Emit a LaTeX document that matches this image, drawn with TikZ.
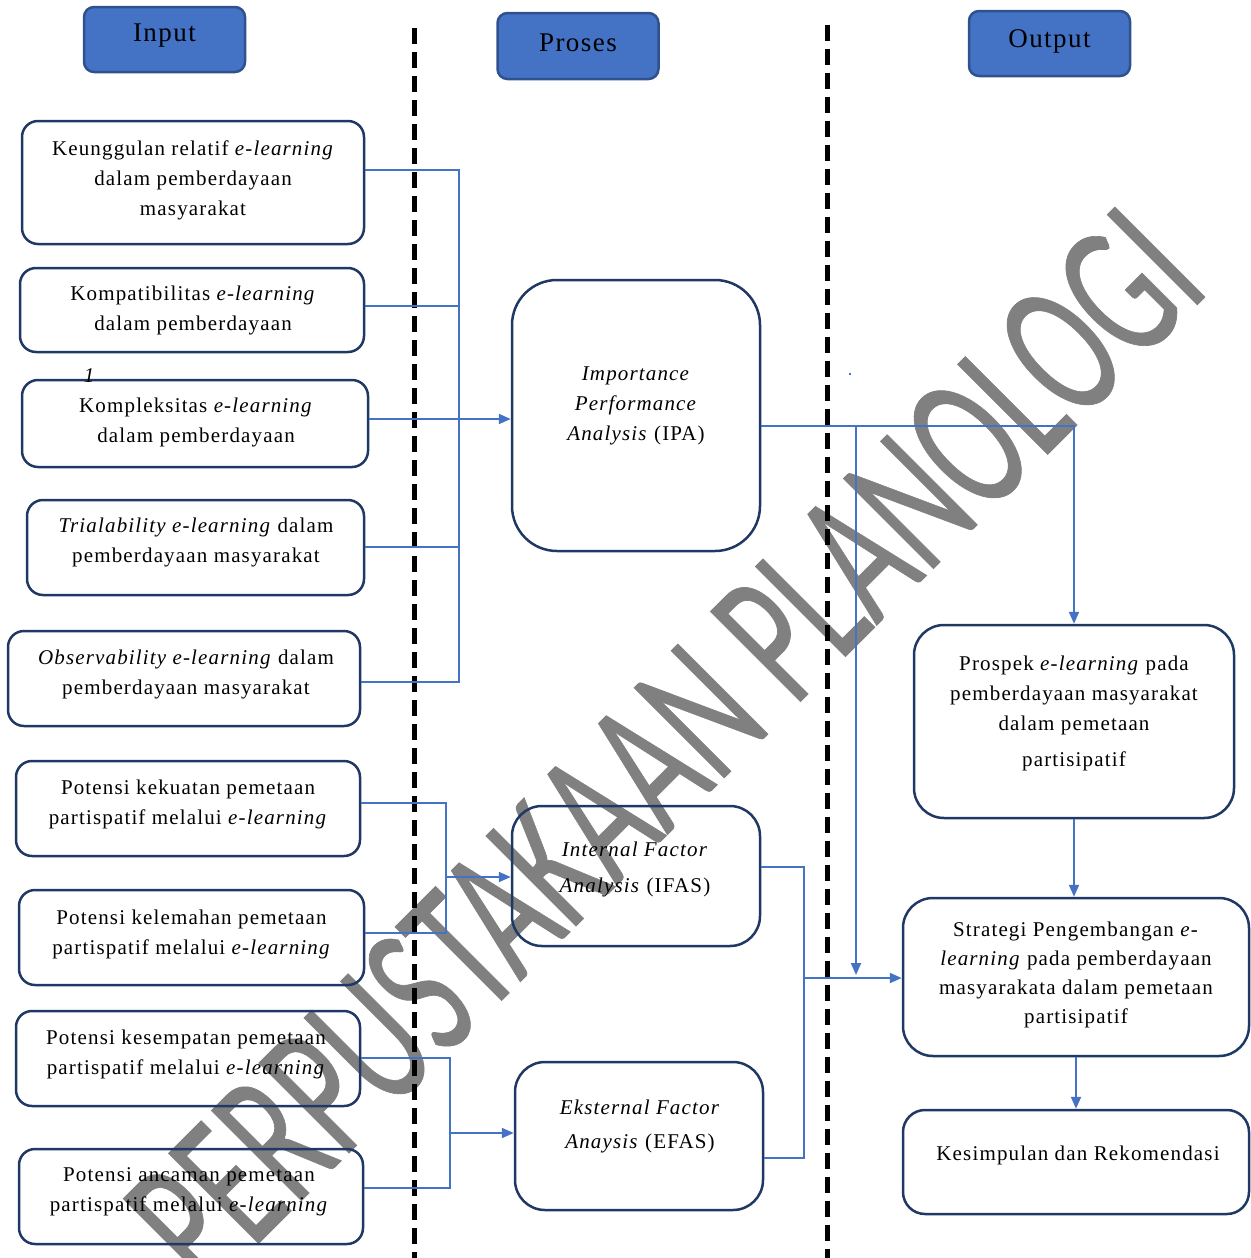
\documentclass[tikz,border=0pt]{standalone}
\usepackage{fontspec}
\usepackage{graphicx}
\setmainfont{Liberation Serif}[LetterSpace=5.5]
\newfontfamily\wmfont{Carlito}[FakeBold=0.4]
\usetikzlibrary{arrows.meta}
\definecolor{hdrfill}{RGB}{68,114,196}
\definecolor{hdrdraw}{RGB}{47,82,143}
\definecolor{boxdraw}{RGB}{32,56,100}
\definecolor{conn}{RGB}{68,114,196}
\definecolor{wm}{RGB}{128,128,128}
\begin{document}
\begin{tikzpicture}[x=1pt,y=-1pt,
 hdr/.style={draw=hdrdraw, fill=hdrfill, line width=2.5pt, rounded corners=10pt, minimum width=161pt, minimum height=65pt, inner sep=0pt},
 hdrtxt/.style={font=\fontsize{27}{30}\selectfont, inner sep=0pt},
 box/.style={draw=boxdraw, line width=2.5pt, rounded corners=16pt, inner sep=0pt},
 txt/.style={font=\fontsize{21}{30}\selectfont, align=center, inner sep=0pt},
 ln/.style={draw=conn, line width=1.5pt},
 arr/.style={draw=conn, line width=2pt, -{Triangle[length=12pt,width=10pt]}},
 sep/.style={line width=5pt, dash pattern=on 16pt off 8pt}
]
\useasboundingbox (0,0) rectangle (1250,1258);
% watermark
\node[text=wm, rotate=45, anchor=base east, inner sep=0pt] (wmark) at (1212,290)
  {\scalebox{1}[1.6]{\wmfont\fontsize{124}{124}\selectfont PERPUSTAKAAN PLANOLOGI}};
% separators
\draw[sep] (414,28) -- (414,1258);
\draw[sep] (827,25) -- (827,1258);
% headers
\node[hdr] (hin) at (164.5,39.5) {};
\node[hdrtxt] (hint) at (164.5,36) {Input};
\node[hdr, minimum height=66pt] (hpr) at (578,46) {};
\node[hdrtxt] (hprt) at (578,43) {Proses};
\node[hdr] (hout) at (1049.5,43.5) {};
\node[hdrtxt] (houtt) at (1049.5,41) {Output};
% input boxes
\node[box, minimum width=342pt, minimum height=123pt] (k1) at (193,182.5) {};
\node[txt] (k1t) at (193,180) {Keunggulan relatif \textit{e-learning}\\ dalam pemberdayaan\\ masyarakat};
\node[box, minimum width=344pt, minimum height=84pt] (k2) at (192,310) {};
\node[txt] (k2t) at (193,310) {Kompatibilitas \textit{e-learning}\\ dalam pemberdayaan};
\node[box, minimum width=346pt, minimum height=87pt] (k3) at (195,423.5) {};
\node[txt] (k3t) at (196,422) {Kompleksitas \textit{e-learning}\\ dalam pemberdayaan};
\node[txt, font=\itshape\fontsize{21}{21}\selectfont] (one) at (89,376) {1};
\node[box, minimum width=337pt, minimum height=95pt] (k4) at (195.5,547.5) {};
\node[txt] (k4t) at (196,542) {\textit{Trialability e-learning} dalam\\ pemberdayaan masyarakat};
\node[box, minimum width=352pt, minimum height=95pt] (k5) at (184,678.5) {};
\node[txt] (k5t) at (186,674) {\textit{Observability e-learning} dalam\\ pemberdayaan masyarakat};
\node[box, minimum width=344pt, minimum height=95pt] (p1) at (188,808.5) {};
\node[txt] (p1t) at (188,804) {Potensi kekuatan pemetaan\\ partispatif melalui \textit{e-learning}};
\node[box, minimum width=345pt, minimum height=95pt] (p2) at (191.5,937.5) {};
\node[txt] (p2t) at (191.5,934) {Potensi kelemahan pemetaan\\ partispatif melalui \textit{e-learning}};
\node[box, minimum width=344pt, minimum height=95pt] (p3) at (188,1058.5) {};
\node[txt] (p3t) at (186,1054) {Potensi kesempatan pemetaan\\ partispatif melalui \textit{e-learning}};
\node[box, minimum width=344pt, minimum height=95pt] (p4) at (191,1196.5) {};
\node[txt] (p4t) at (189,1192) {Potensi ancaman pemetaan\\ partispatif melalui \textit{e-learning}};
% process boxes
\node[box, rounded corners=45pt, minimum width=248pt, minimum height=271pt] (ipa) at (636,415.5) {};
\node[txt] (ipat) at (636,406) {\textit{Importance}\\ \textit{Performance}\\ \textit{Analysis} (IPA)};
\node[box, rounded corners=30pt, minimum width=248pt, minimum height=140pt] (ifas) at (636,876) {};
\node[txt, font=\fontsize{21}{36}\selectfont] (ifast) at (635,869) {\textit{Internal Factor}\\ \textit{Analysis} (IFAS)};
\node[box, rounded corners=30pt, minimum width=248pt, minimum height=148pt] (efas) at (639,1136) {};
\node[txt, font=\fontsize{21}{34}\selectfont] (efast) at (640,1126) {\textit{Eksternal Factor}\\ \textit{Anaysis} (EFAS)};
% output boxes
\node[box, rounded corners=30pt, minimum width=320pt, minimum height=193pt] (prospek) at (1074,721.5) {};
\node[txt] (prospekt) at (1074,713) {Prospek \textit{e-learning} pada\\ pemberdayaan masyarakat\\ dalam pemetaan\\[6pt] partisipatif};
\node[box, rounded corners=30pt, minimum width=346pt, minimum height=158pt] (strat) at (1076,977) {};
\node[txt, font=\fontsize{21}{29}\selectfont] (stratt) at (1076,975) {Strategi Pengembangan \textit{e-}\\ \textit{learning} pada pemberdayaan\\ masyarakata dalam pemetaan\\ partisipatif};
\node[box, rounded corners=22pt, minimum width=346pt, minimum height=104pt] (kes) at (1076,1162) {};
\node[txt] (kest) at (1078,1155) {Kesimpulan dan Rekomendasi};
\node[fill=conn, minimum size=2pt, inner sep=0pt] (dot) at (850,374) {};
% connectors group 1
\coordinate (b1t) at (459,170);
\coordinate (b1b) at (459,682);
\draw[ln] (k1.east |- b1t) -- (b1t) -- (b1b) -- (k5.east |- b1b);
\draw[ln] (k2.east |- 0,306) -- (459,306);
\draw[ln] (k4.east |- 0,547) -- (459,547);
\draw[ln] (k3.east |- 0,419) -- (459,419);
\draw[arr] (459,419) -- (ipa.west |- 0,419);
% group 2
\draw[ln] (p1.east |- 0,803) -- (446,803) -- (446,933) -- (p2.east |- 0,933);
\draw[arr] (446,877) -- (ifas.west |- 0,877);
% group 3
\draw[ln] (p3.east |- 0,1058) -- (450,1058) -- (450,1188) -- (p4.east |- 0,1188);
\draw[arr] (450,1133) -- (efas.west |- 0,1133);
% group 4
\draw[ln] (ifas.east |- 0,867) -- (804,867) -- (804,1158) -- (efas.east |- 0,1158);
\draw[arr] (804,978) -- (strat.west |- 0,978);
% IPA outputs
\draw[arr] (ipa.east |- 0,426) -| (prospek.north);
\draw[arr] (856,426) -- (856,975);
\draw[arr] (prospek.south) -- (prospek.south |- strat.north);
\draw[arr] (strat.south) -- (kes.north);
\end{tikzpicture}
\end{document}
